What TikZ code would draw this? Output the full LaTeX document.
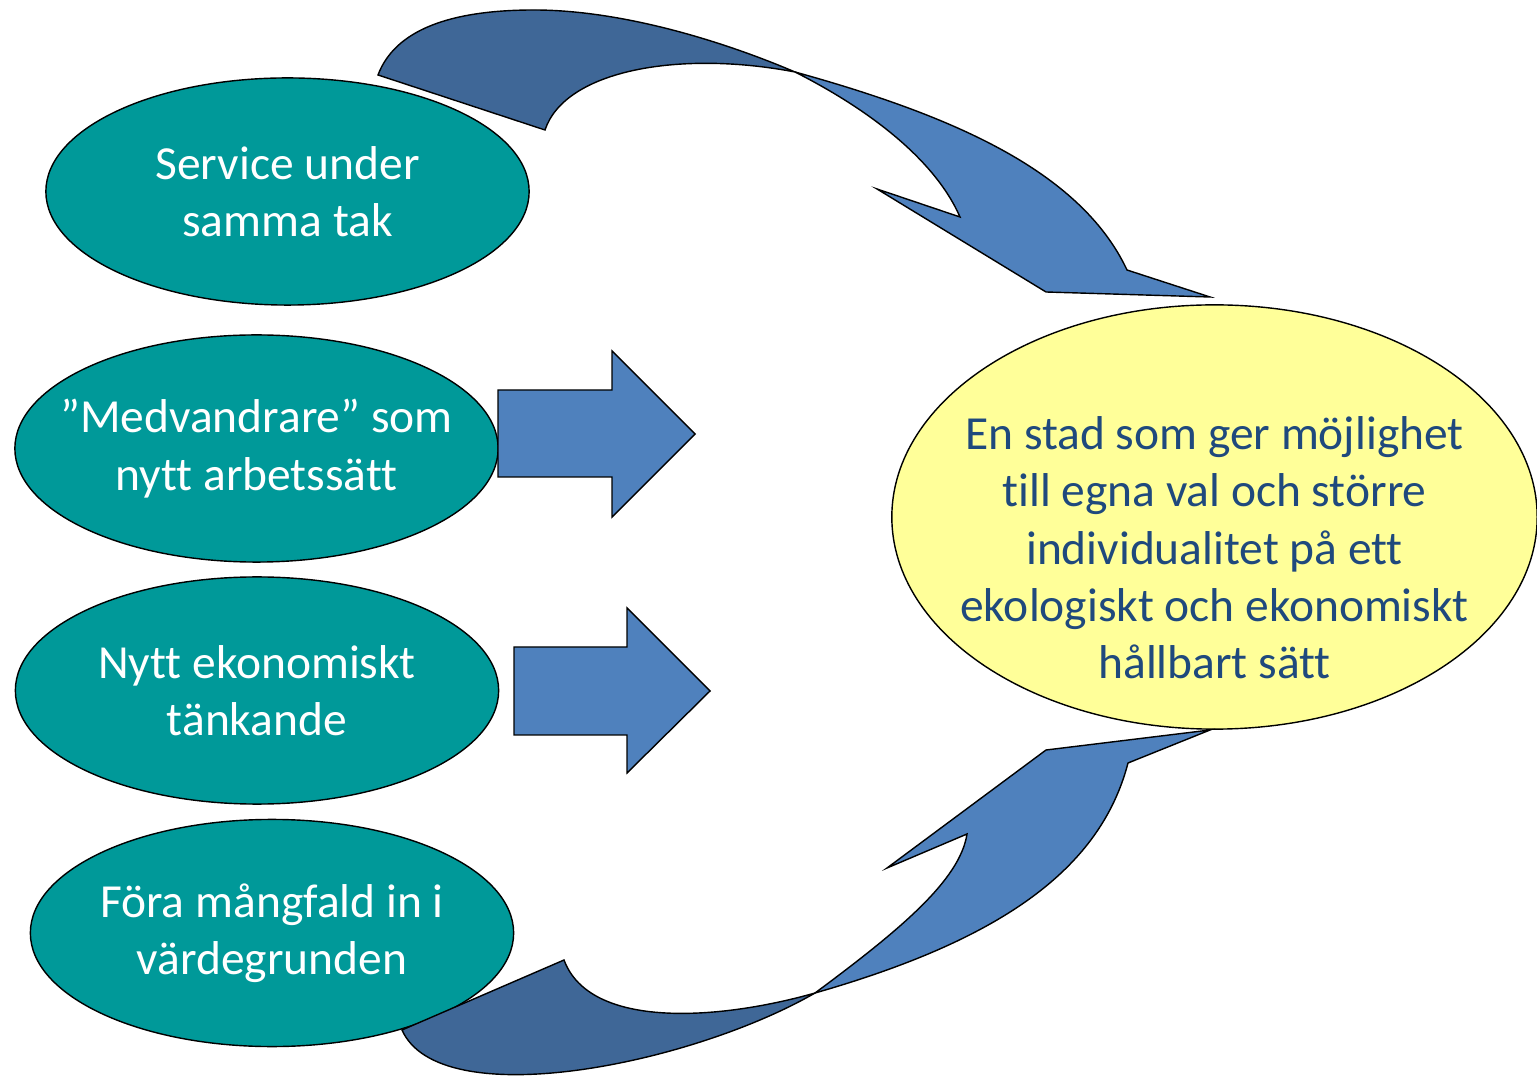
\documentclass[tikz,border=0pt]{standalone}
\usepackage{fontspec}
\setmainfont[RawFeature={-liga;-clig;-calt;-dlig}]{Carlito}
\usepackage{xcolor}
\usetikzlibrary{shapes.geometric}

\definecolor{tealfill}{HTML}{009999}
\definecolor{goalfill}{HTML}{FFFF99}
\definecolor{goaltext}{HTML}{1F497D}
\definecolor{arrowlight}{HTML}{4F81BD}
\definecolor{arrowdark}{HTML}{3F6797}

\begin{document}
\begin{tikzpicture}[
  x=0.01cm, y=-0.01cm,
  font=\fontsize{13.5}{16.3}\selectfont,
  factor/.style={ellipse, draw, fill=tealfill, text=white, align=center,
                 minimum width=4.83cm, minimum height=2.27cm,
                 inner xsep=-1cm, inner ysep=0pt},
  goal/.style={ellipse, draw, fill=goalfill,
               minimum width=6.45cm, minimum height=4.24cm, inner sep=0pt},
  goallabel/.style={text=goaltext, align=center, inner sep=0pt},
  front/.style={draw, fill=arrowlight, line join=miter},
  back/.style={draw, fill=arrowdark, line join=miter},
]
\useasboundingbox (0,0) rectangle (1537,1083);

% factors and goal
\node[factor] (f1) at (287.5,191.5) {Service under\\samma tak};
\node[factor] (f2) at (256.5,448.5) {”Medvandrare” som\\nytt arbetssätt};
\node[factor] (f3) at (257,690.5) {Nytt ekonomiskt\\tänkande};
\node[factor] (f4) at (272,933) {Föra mångfald in i\\värdegrunden};
\node[goal] (goal) at (1214.5,517) {};
\node[goallabel] (goal text) at (1214.5,548) {En stad som ger möjlighet\\till egna val och större\\individualitet på ett\\ekologiskt och ekonomiskt\\hållbart sätt};

% block arrows
\draw[front] (498,390) -- (612,390) -- (612,351) -- (695,434) -- (612,517) -- (612,477) -- (498,477) -- cycle;
\draw[front] (514,647) -- (627,647) -- (627,608) -- (710,691) -- (627,773) -- (627,735) -- (514,735) -- cycle;

% curved arrow, top
\draw[back] (378,75) .. controls (395,30) and (450,10) .. (534,10)
  .. controls (620,10) and (720,40) .. (795,72)
  .. controls (680,50) and (565,70) .. (545,130) -- cycle;
\draw[front] (795,72) .. controls (870,110) and (935,160) .. (960,217)
  -- (877,189) -- (1046,292) -- (1210,297) -- (1127,270)
  .. controls (1080,170) and (950,115) .. (795,72) -- cycle;

% curved arrow, bottom
\draw[back] (402,1030) -- (564,960)
  .. controls (590,1030) and (720,1020) .. (815,993)
  .. controls (690,1065) and (440,1115) .. (402,1030) -- cycle;
\draw[front] (815,993) .. controls (900,930) and (960,880) .. (967,834)
  -- (887,868) -- (1046,750) -- (1210,730) -- (1128,763)
  .. controls (1100,870) and (1000,940) .. (815,993) -- cycle;
\end{tikzpicture}
\end{document}
